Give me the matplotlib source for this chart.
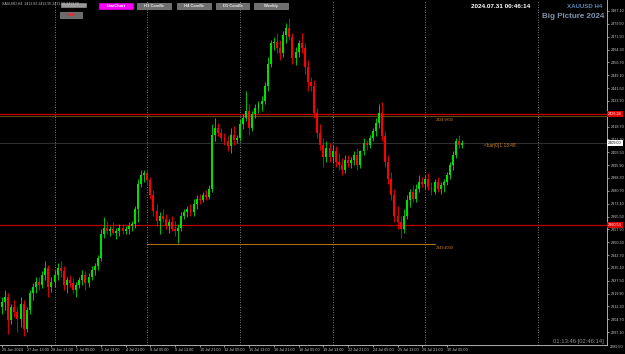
import numpy as np
import matplotlib
matplotlib.use("Agg")
import matplotlib.pyplot as plt
from matplotlib.patches import Rectangle

plt.rcParams["font.family"] = ["Liberation Sans", "DejaVu Sans"]

# XAUUSD H4 bars, 26 Jun 2024 05:00 .. 31 Jul 2024 01:00 (150 bars)
o = [2312, 2315, 2318, 2304, 2312, 2309, 2305, 2314, 2299, 2310,
     2320, 2324, 2327, 2325, 2331, 2335, 2324, 2327, 2331, 2335,
     2333, 2325, 2328, 2326, 2322, 2325, 2328, 2331, 2326, 2330,
     2334, 2336, 2341, 2355, 2359, 2357, 2358, 2356, 2357, 2359,
     2357, 2358, 2360, 2361, 2370, 2385, 2390, 2391, 2387, 2378,
     2369, 2363, 2366, 2364, 2360, 2362, 2358, 2357, 2359, 2366,
     2368, 2370, 2368, 2373, 2376, 2375, 2378, 2377, 2382, 2414,
     2418, 2415, 2412, 2410, 2407, 2414, 2411, 2412, 2420, 2424,
     2428, 2418, 2426, 2430, 2432, 2434, 2443, 2456, 2468, 2469,
     2465, 2462, 2473, 2477, 2472, 2459, 2463, 2468, 2465, 2454,
     2445, 2443, 2427, 2415, 2408, 2401, 2406, 2401, 2404, 2398,
     2396, 2393, 2399, 2397, 2399, 2402, 2396, 2404, 2409, 2408,
     2412, 2416, 2421, 2427, 2413, 2398, 2388, 2378, 2366, 2362,
     2358, 2366, 2375, 2380, 2376, 2382, 2386, 2385, 2388, 2383,
     2380, 2386, 2382, 2384, 2386, 2390, 2396, 2402, 2410, 2408]
h = [2318, 2322, 2320, 2314, 2316, 2312, 2318, 2316, 2312, 2322,
     2326, 2330, 2330, 2333, 2339, 2337, 2330, 2334, 2338, 2339,
     2336, 2330, 2331, 2329, 2327, 2330, 2334, 2333, 2332, 2336,
     2338, 2343, 2358, 2365, 2363, 2360, 2362, 2359, 2361, 2361,
     2360, 2362, 2363, 2372, 2388, 2393, 2393, 2393, 2389, 2381,
     2373, 2368, 2370, 2367, 2364, 2366, 2363, 2361, 2368, 2370,
     2372, 2373, 2376, 2378, 2379, 2380, 2381, 2384, 2420, 2424,
     2421, 2418, 2415, 2413, 2418, 2419, 2414, 2423, 2426, 2440,
     2432, 2428, 2432, 2434, 2437, 2445, 2460, 2470, 2472, 2474,
     2470, 2475, 2480, 2483, 2474, 2466, 2470, 2474, 2468, 2458,
     2448, 2446, 2430, 2420, 2412, 2410, 2409, 2408, 2407, 2403,
     2400, 2402, 2402, 2401, 2404, 2406, 2405, 2412, 2411, 2414,
     2418, 2424, 2432, 2433, 2416, 2402, 2392, 2382, 2372, 2366,
     2370, 2378, 2382, 2384, 2385, 2390, 2389, 2390, 2391, 2386,
     2388, 2389, 2386, 2388, 2392, 2398, 2404, 2412, 2414, 2411]
l = [2308, 2310, 2296, 2302, 2306, 2297, 2300, 2295, 2297, 2308,
     2316, 2320, 2322, 2323, 2328, 2318, 2321, 2324, 2328, 2330,
     2322, 2320, 2324, 2320, 2318, 2323, 2325, 2322, 2324, 2328,
     2331, 2334, 2339, 2353, 2355, 2354, 2355, 2352, 2354, 2355,
     2355, 2355, 2357, 2359, 2362, 2383, 2386, 2385, 2376, 2366,
     2360, 2355, 2362, 2358, 2356, 2357, 2354, 2350, 2357, 2364,
     2365, 2366, 2366, 2370, 2373, 2374, 2375, 2376, 2380, 2410,
     2413, 2410, 2408, 2404, 2403, 2408, 2409, 2410, 2417, 2422,
     2414, 2416, 2424, 2427, 2428, 2432, 2440, 2454, 2464, 2462,
     2458, 2460, 2468, 2470, 2456, 2455, 2460, 2462, 2450, 2440,
     2440, 2424, 2412, 2405, 2395, 2398, 2398, 2397, 2395, 2393,
     2390, 2391, 2395, 2394, 2396, 2393, 2394, 2402, 2405, 2406,
     2410, 2413, 2418, 2410, 2395, 2385, 2375, 2362, 2358, 2353,
     2356, 2364, 2371, 2374, 2374, 2380, 2383, 2382, 2381, 2378,
     2379, 2380, 2379, 2380, 2384, 2388, 2393, 2400, 2406, 2406]
c = [2315, 2318, 2304, 2312, 2309, 2305, 2314, 2299, 2310, 2320,
     2324, 2327, 2325, 2331, 2335, 2324, 2327, 2331, 2335, 2333,
     2325, 2328, 2326, 2322, 2325, 2328, 2331, 2326, 2330, 2334,
     2336, 2341, 2355, 2359, 2357, 2358, 2356, 2357, 2359, 2357,
     2358, 2360, 2361, 2370, 2385, 2390, 2391, 2387, 2378, 2369,
     2363, 2366, 2364, 2360, 2362, 2358, 2357, 2359, 2366, 2368,
     2370, 2368, 2373, 2376, 2375, 2378, 2377, 2382, 2414, 2418,
     2415, 2412, 2410, 2407, 2414, 2411, 2412, 2420, 2424, 2428,
     2418, 2426, 2430, 2432, 2434, 2443, 2456, 2468, 2469, 2465,
     2462, 2473, 2477, 2472, 2459, 2463, 2468, 2465, 2454, 2445,
     2443, 2427, 2415, 2408, 2401, 2406, 2401, 2404, 2398, 2396,
     2393, 2399, 2397, 2399, 2402, 2396, 2404, 2409, 2408, 2412,
     2416, 2421, 2427, 2413, 2398, 2388, 2378, 2366, 2362, 2358,
     2366, 2375, 2380, 2376, 2382, 2386, 2385, 2388, 2383, 2380,
     2386, 2382, 2384, 2386, 2390, 2396, 2402, 2410, 2408, 2409]

time_labels = ["26 Jun 2024", "27 Jun 13:00", "28 Jun 21:00", "2 Jul 05:00", "3 Jul 13:00",
               "4 Jul 21:00", "8 Jul 05:00", "9 Jul 13:00", "10 Jul 21:00", "12 Jul 05:00",
               "15 Jul 13:00", "16 Jul 21:00", "18 Jul 05:00", "19 Jul 13:00", "22 Jul 21:00",
               "24 Jul 05:00", "25 Jul 13:00", "26 Jul 21:00", "30 Jul 05:00"]
price_ticks = [2487.10 - 7.6 * k for k in range(26)]

sr_levels = [2426.24, 2360.53]
fibo_upper = 2424.98
fibo_lower = 2349.40
bid = 2409.00

W, H = 625, 354
FS = 2.7
fig = plt.figure(figsize=(W / 100, H / 100), dpi=100)
fig.patch.set_facecolor("black")
ax = fig.add_axes([0, 9 / H, 607 / W, 345 / H])
ax.set_facecolor("black")

n = len(c)
idx = np.arange(n)
oa, ca = np.array(o), np.array(c)
colors = np.where(ca >= oa, "#00e000", "#ff0000")
ax.vlines(idx, l, h, colors=colors, linewidth=0.6, zorder=3)
ax.bar(idx, np.maximum(np.abs(ca - oa), 0.4), bottom=np.minimum(oa, ca),
       width=0.62, color=colors, linewidth=0, zorder=3)

ax.set_xlim(-0.65, 195.8)
ax.set_ylim(2289.5, 2493.6)

# weekly separators
for xv in [17, 47, 77, 107, 137, 173.5]:
    ax.axvline(xv, color="#a0a0a0", linestyle=(0, (1, 2)), linewidth=0.6, zorder=1)

for lv in sr_levels:
    ax.axhline(lv, color="#c00000", linewidth=0.9, zorder=2)
ax.axhline(fibo_upper, color="#6b4a1a", linewidth=0.7, zorder=2)
ax.plot([47, 140], [fibo_lower, fibo_lower], color="#b8700f", linewidth=0.7, zorder=2)
ax.axhline(bid, color="#3a3a3a", linewidth=0.6, zorder=1)

ax.text(140.3, fibo_upper - 1.2, f"{fibo_upper:.4f}", color="#d08020", fontsize=FS, va="top")
ax.text(140.3, fibo_lower - 1.2, f"{fibo_lower:.4f}", color="#d08020", fontsize=FS, va="top")
ax.text(156, bid - 1.5, "<bar(0)1 13:48", color="#d08020", fontsize=3.4, va="center")

# price scale
ax.yaxis.tick_right()
ax.set_yticks(price_ticks)
ax.set_yticklabels([f"{p:.2f}" for p in price_ticks])
ax.tick_params(axis="y", colors="#c8c8c8", labelsize=FS, length=1.5, width=0.5, pad=1)
# labels hidden under the level boxes
for p, lab in zip(price_ticks, ax.get_yticklabels()):
    if any(abs(p - lv) < 2.5 for lv in sr_levels):
        lab.set_visible(False)
ax.set_xticks(np.arange(0, n, 8))
ax.set_xticklabels(time_labels, ha="left")
ax.tick_params(axis="x", colors="#c8c8c8", labelsize=FS, length=1.5, width=0.5, pad=1)
for s in ["top", "left"]:
    ax.spines[s].set_visible(False)
for s in ["right", "bottom"]:
    ax.spines[s].set_color("#c8c8c8")
    ax.spines[s].set_linewidth(0.6)
ax.text(1.005, 0, "2289.50", transform=ax.transAxes, color="#c8c8c8", fontsize=FS, va="top")


# price boxes on the scale
def price_box(price, fc, tc):
    ax.annotate(f"{price:.2f}", xy=(1, price), xycoords=("axes fraction", "data"),
                xytext=(0.8, 0), textcoords="offset points", va="center", ha="left",
                fontsize=FS, color=tc, annotation_clip=False, zorder=5,
                bbox=dict(boxstyle="square,pad=0.25", fc=fc, ec="none"))


for lv in sr_levels:
    price_box(lv, "#e00000", "white")
price_box(bid, "white", "black")


def px(x, y):
    return x / W, 1 - y / H


def button(x0, y0, x1, y1, fc, label, tc, ec="#a0a0a0"):
    fig.add_artist(Rectangle(px(x0, y1), (x1 - x0) / W, (y1 - y0) / H,
                             transform=fig.transFigure, facecolor=fc, edgecolor=ec, linewidth=0.4))
    if label:
        fig.text(*px((x0 + x1) / 2, (y0 + y1) / 2 + 0.3), label, color=tc, fontsize=3.0,
                 fontweight="bold", ha="center", va="center")


button(61, 3, 86, 7, "#9a9a9a", "", "black")
button(60, 12, 82, 18, "#6a6a6a", "S&R", "#ff2020")
button(99, 3, 133, 9, "#ff00ff", "LineChart", "white", ec="#ff00ff")
button(137, 3, 171, 9, "#6f6f6f", "H1 Candle", "#e8e8e8")
button(177, 3, 211, 9, "#6f6f6f", "H4 Candle", "#e8e8e8")
button(216, 3, 249, 9, "#6f6f6f", "D1 Candle", "#e8e8e8")
button(254, 3, 288, 9, "#6f6f6f", "Weekly", "#e8e8e8")

fig.text(*px(2, 4), "XAUUSD,H4  2413.83 2413.95 2411.58 2413.60", color="#c0c0c0",
         fontsize=2.6, va="center")
fig.text(*px(471, 6), "2024.07.31 00:46:14", color="white", fontsize=4.6, fontweight="bold", va="center")
fig.text(*px(602, 6), "XAUUSD H4", color="#5b87b8", fontsize=4.4, fontweight="bold", ha="right", va="center")
fig.text(*px(604, 16), "Big Picture 2024", color="#7f95ad", fontsize=5.8, fontweight="bold", ha="right", va="center")
fig.text(*px(604, 341), "01:13:46 [02:46:14]", color="#909090", fontsize=4.2, ha="right", va="center")

fig.savefig("out.png", dpi=100, facecolor="black")
